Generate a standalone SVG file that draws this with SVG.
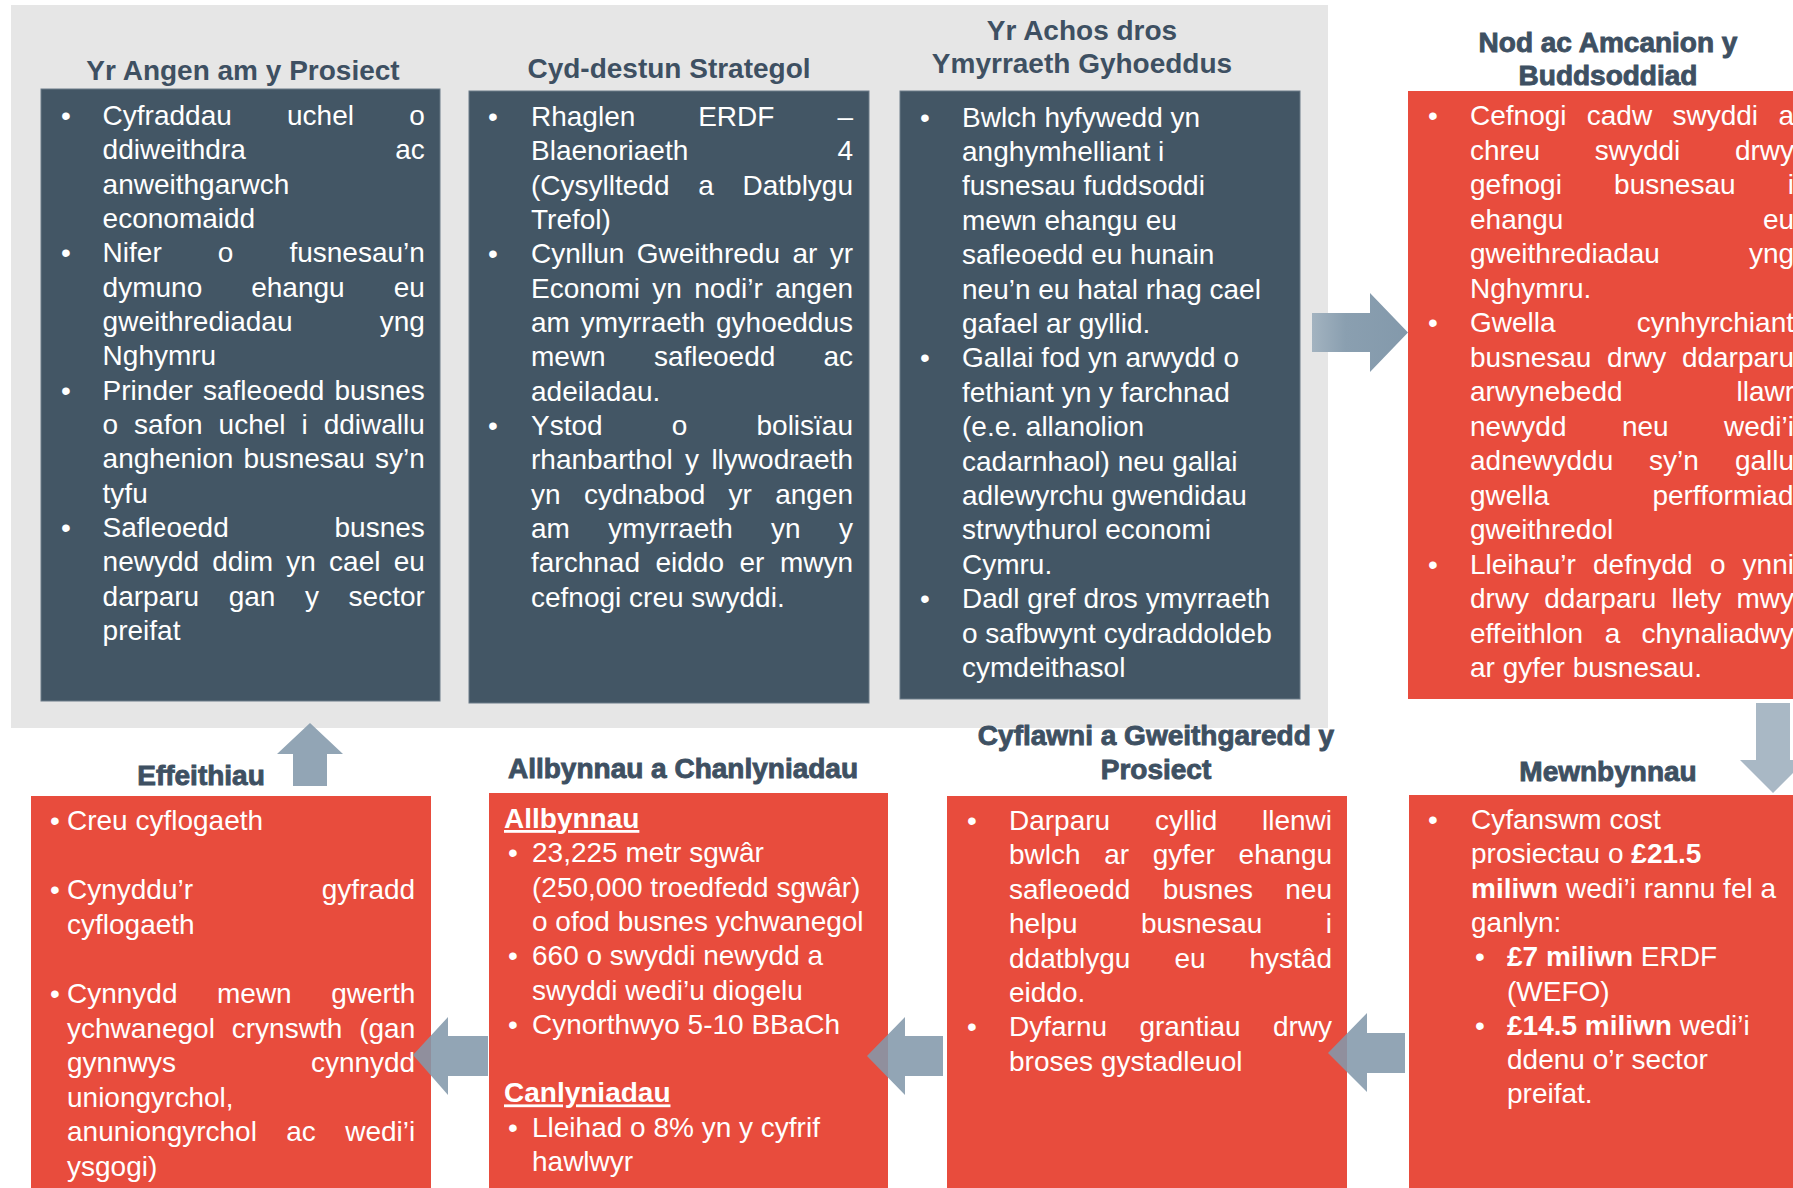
<svg xmlns="http://www.w3.org/2000/svg" width="1793" height="1188" viewBox="0 0 1793 1188">
<defs>
<style>
text{font-family:"Liberation Sans",Arial,sans-serif;}
.b{font-size:28px;fill:#ffffff;}
.h{font-size:28px;font-weight:bold;fill:#3e5062;text-anchor:middle;}
.hh{font-size:28px;font-weight:bold;fill:#3e5062;text-anchor:middle;stroke:#3e5062;stroke-width:0.9px;}
.dk{fill:#435665;stroke:#6b7b88;stroke-width:1;}
.rd{fill:#e84c3d;}
.ar{fill:#8399ab;opacity:0.88;}
.bo{font-weight:bold;}
.u{font-weight:bold;text-decoration:underline;}
</style>
<linearGradient id="gr" x1="1312" y1="0" x2="1408" y2="0" gradientUnits="userSpaceOnUse">
<stop offset="0" stop-color="#a3b3c0"/>
<stop offset="0.35" stop-color="#8a9fb0"/>
<stop offset="1" stop-color="#8399ab"/>
</linearGradient>
</defs>
<rect width="1793" height="1188" fill="#ffffff"/>
<rect x="11" y="5" width="1317" height="723" fill="#e6e6e6"/>

<g id="node-angen">
<rect class="dk" x="41" y="89" width="399" height="612"/>
<text class="h" x="243" y="80">Yr Angen am y Prosiect</text>
<g class="b">
<text x="61" y="125">•</text><text x="61" y="262.3">•</text><text x="61" y="399.6">•</text><text x="61" y="537">•</text>
<text y="125"><tspan x="102.6">Cyfraddau</tspan><tspan x="287">uchel</tspan><tspan x="409.2">o</tspan></text>
<text y="159.3"><tspan x="102.6">ddiweithdra</tspan><tspan x="395.2">ac</tspan></text>
<text x="102.6" y="193.7">anweithgarwch</text>
<text x="102.6" y="228">economaidd</text>
<text y="262.3"><tspan x="102.6">Nifer</tspan><tspan x="217.8">o</tspan><tspan x="289.4">fusnesau’n</tspan></text>
<text y="296.7"><tspan x="102.6">dymuno</tspan><tspan x="251.2">ehangu</tspan><tspan x="393.7">eu</tspan></text>
<text y="331"><tspan x="102.6">gweithrediadau</tspan><tspan x="379.7">yng</tspan></text>
<text x="102.6" y="365.3">Nghymru</text>
<text y="399.6"><tspan x="102.6">Prinder</tspan><tspan x="203">safleoedd</tspan><tspan x="334.5">busnes</tspan></text>
<text y="434"><tspan x="102.6">o</tspan><tspan x="134.1">safon</tspan><tspan x="218.6">uchel</tspan><tspan x="301.5">i</tspan><tspan x="323.7">ddiwallu</tspan></text>
<text y="468.3"><tspan x="102.6">anghenion</tspan><tspan x="243.5">busnesau</tspan><tspan x="375">sy’n</tspan></text>
<text x="102.6" y="502.6">tyfu</text>
<text y="537"><tspan x="102.6">Safleoedd</tspan><tspan x="334.5">busnes</tspan></text>
<text y="571.3"><tspan x="102.6">newydd</tspan><tspan x="212.3">ddim</tspan><tspan x="286.3">yn</tspan><tspan x="329.1">cael</tspan><tspan x="393.7">eu</tspan></text>
<text y="605.6"><tspan x="102.6">darparu</tspan><tspan x="228.7">gan</tspan><tspan x="305">y</tspan><tspan x="348.6">sector</tspan></text>
<text x="102.6" y="640">preifat</text>
</g>
</g>

<g id="node-cyd-destun">
<rect class="dk" x="469" y="91" width="400" height="612"/>
<text class="h" x="669" y="78">Cyd-destun Strategol</text>
<g class="b">
<text x="488" y="126">•</text><text x="488" y="263.3">•</text><text x="488" y="435">•</text>
<text y="126"><tspan x="531">Rhaglen</tspan><tspan x="698.2">ERDF</tspan><tspan x="837.4">–</tspan></text>
<text y="160.3"><tspan x="531">Blaenoriaeth</tspan><tspan x="837.4">4</tspan></text>
<text y="194.7"><tspan x="531">(Cysylltedd</tspan><tspan x="698.2">a</tspan><tspan x="742.5">Datblygu</tspan></text>
<text x="531" y="229">Trefol)</text>
<text y="263.3"><tspan x="531">Cynllun</tspan><tspan x="636.8">Gweithredu</tspan><tspan x="792.4">ar</tspan><tspan x="829.7">yr</tspan></text>
<text y="297.7"><tspan x="531">Economi</tspan><tspan x="652.3">yn</tspan><tspan x="694.3">nodi’r</tspan><tspan x="775.2">angen</tspan></text>
<text y="332"><tspan x="531">am</tspan><tspan x="580.7">ymyrraeth</tspan><tspan x="716">gyhoeddus</tspan></text>
<text y="366.3"><tspan x="531">mewn</tspan><tspan x="653.9">safleoedd</tspan><tspan x="823.4">ac</tspan></text>
<text x="531" y="400.6">adeiladau.</text>
<text y="435"><tspan x="531">Ystod</tspan><tspan x="671.8">o</tspan><tspan x="756.5">bolisïau</tspan></text>
<text y="469.3"><tspan x="531">rhanbarthol</tspan><tspan x="685">y</tspan><tspan x="711.4">llywodraeth</tspan></text>
<text y="503.6"><tspan x="531">yn</tspan><tspan x="583.9">cydnabod</tspan><tspan x="728.6">yr</tspan><tspan x="775.2">angen</tspan></text>
<text y="538"><tspan x="531">am</tspan><tspan x="608.3">ymyrraeth</tspan><tspan x="771.1">yn</tspan><tspan x="839">y</tspan></text>
<text y="572.3"><tspan x="531">farchnad</tspan><tspan x="655.5">eiddo</tspan><tspan x="739.5">er</tspan><tspan x="779.9">mwyn</tspan></text>
<text x="531" y="606.6">cefnogi creu swyddi.</text>
</g>
</g>

<g id="node-achos">
<rect class="dk" x="900" y="91" width="400" height="608"/>
<text class="h" x="1082" y="40">Yr Achos dros</text>
<text class="h" x="1082" y="73">Ymyrraeth Gyhoeddus</text>
<g class="b">
<text x="920" y="126.5">•</text><text x="920" y="367.3">•</text><text x="920" y="608.1">•</text>
<text x="962" y="126.5">Bwlch hyfywedd  yn</text>
<text x="962" y="160.9">anghymhelliant i</text>
<text x="962" y="195.3">fusnesau fuddsoddi</text>
<text x="962" y="229.7">mewn ehangu eu</text>
<text x="962" y="264.1">safleoedd eu hunain</text>
<text x="962" y="298.5">neu’n eu hatal rhag cael</text>
<text x="962" y="332.9">gafael ar gyllid.</text>
<text x="962" y="367.3">Gallai fod yn arwydd o</text>
<text x="962" y="401.7">fethiant yn y farchnad</text>
<text x="962" y="436.1">(e.e. allanolion</text>
<text x="962" y="470.5">cadarnhaol) neu gallai</text>
<text x="962" y="504.9">adlewyrchu gwendidau</text>
<text x="962" y="539.3">strwythurol economi</text>
<text x="962" y="573.7">Cymru.</text>
<text x="962" y="608.1">Dadl gref dros ymyrraeth</text>
<text x="962" y="642.5">o safbwynt cydraddoldeb</text>
<text x="962" y="676.9">cymdeithasol</text>
</g>
</g>

<g id="node-nod">
<rect class="rd" x="1408" y="91" width="400" height="608"/>
<text class="hh" x="1608" y="52">Nod ac Amcanion y</text>
<text class="hh" x="1608" y="85">Buddsoddiad</text>
<g class="b">
<text x="1428" y="125">•</text><text x="1428" y="332">•</text><text x="1428" y="573.5">•</text>
<text y="125"><tspan x="1470">Cefnogi</tspan><tspan x="1586.8">cadw</tspan><tspan x="1672.5">swyddi</tspan><tspan x="1778.4">a</tspan></text>
<text y="159.5"><tspan x="1470">chreu</tspan><tspan x="1594.7">swyddi</tspan><tspan x="1734.9">drwy</tspan></text>
<text y="194"><tspan x="1470">gefnogi</tspan><tspan x="1614.1">busnesau</tspan><tspan x="1787.8">i</tspan></text>
<text y="228.5"><tspan x="1470">ehangu</tspan><tspan x="1762.9">eu</tspan></text>
<text y="263"><tspan x="1470">gweithrediadau</tspan><tspan x="1748.9">yng</tspan></text>
<text x="1470" y="297.5">Nghymru.</text>
<text y="332"><tspan x="1470">Gwella</tspan><tspan x="1636.8">cynhyrchiant</tspan></text>
<text y="366.5"><tspan x="1470">busnesau</tspan><tspan x="1607.1">drwy</tspan><tspan x="1681.9">ddarparu</tspan></text>
<text y="401"><tspan x="1470">arwynebedd</tspan><tspan x="1736.5">llawr</tspan></text>
<text y="435.5"><tspan x="1470">newydd</tspan><tspan x="1621.9">neu</tspan><tspan x="1724">wedi’i</tspan></text>
<text y="470"><tspan x="1470">adnewyddu</tspan><tspan x="1649.1">sy’n</tspan><tspan x="1734.9">gallu</tspan></text>
<text y="504.5"><tspan x="1470">gwella</tspan><tspan x="1652.4">perfformiad</tspan></text>
<text x="1470" y="539">gweithredol</text>
<text y="573.5"><tspan x="1470">Lleihau’r</tspan><tspan x="1593">defnydd</tspan><tspan x="1709.9">o</tspan><tspan x="1742.6">ynni</tspan></text>
<text y="608"><tspan x="1470">drwy</tspan><tspan x="1544.3">ddarparu</tspan><tspan x="1671.5">llety</tspan><tspan x="1736.5">mwy</tspan></text>
<text y="642.5"><tspan x="1470">effeithlon</tspan><tspan x="1604.8">a</tspan><tspan x="1641.5">chynaliadwy</tspan></text>
<text x="1470" y="677">ar gyfer busnesau.</text>
</g>
</g>

<g id="node-mewnbynnau">
<rect class="rd" x="1409" y="795" width="400" height="400"/>
<text class="hh" x="1608" y="781">Mewnbynnau</text>
<g class="b">
<text x="1428" y="829">•</text>
<text x="1471" y="829">Cyfanswm cost</text>
<text x="1471" y="863.3">prosiectau o <tspan class="bo">£21.5</tspan></text>
<text x="1471" y="897.6"><tspan class="bo">miliwn</tspan> wedi’i rannu fel a</text>
<text x="1471" y="931.9">ganlyn:</text>
<text x="1475" y="966.2">•</text>
<text x="1507" y="966.2"><tspan class="bo">£7 miliwn</tspan> ERDF</text>
<text x="1507" y="1000.5">(WEFO)</text>
<text x="1475" y="1034.8">•</text>
<text x="1507" y="1034.8"><tspan class="bo">£14.5 miliwn</tspan> wedi’i</text>
<text x="1507" y="1069.1">ddenu o’r sector</text>
<text x="1507" y="1103.4">preifat.</text>
</g>
</g>

<g id="node-cyflawni">
<rect class="rd" x="947" y="796" width="400" height="400"/>
<text class="hh" x="1156" y="745">Cyflawni a Gweithgaredd y</text>
<text class="hh" x="1156" y="779">Prosiect</text>
<g class="b">
<text x="967" y="830">•</text><text x="967" y="1036.4">•</text>
<text y="830"><tspan x="1009">Darparu</tspan><tspan x="1155">cyllid</tspan><tspan x="1262">llenwi</tspan></text>
<text y="864.4"><tspan x="1009">bwlch</tspan><tspan x="1104.2">ar</tspan><tspan x="1152.7">gyfer</tspan><tspan x="1238.6">ehangu</tspan></text>
<text y="898.8"><tspan x="1009">safleoedd</tspan><tspan x="1162.7">busnes</tspan><tspan x="1285.3">neu</tspan></text>
<text y="933.2"><tspan x="1009">helpu</tspan><tspan x="1140.9">busnesau</tspan><tspan x="1325.8">i</tspan></text>
<text y="967.6"><tspan x="1009">ddatblygu</tspan><tspan x="1174.4">eu</tspan><tspan x="1249.5">hystâd</tspan></text>
<text x="1009" y="1002">eiddo.</text>
<text y="1036.4"><tspan x="1009">Dyfarnu</tspan><tspan x="1139.4">grantiau</tspan><tspan x="1272.9">drwy</tspan></text>
<text x="1009" y="1070.8">broses gystadleuol</text>
</g>
</g>

<g id="node-allbynnau">
<rect class="rd" x="489" y="793" width="399" height="400"/>
<text class="hh" x="683" y="778">Allbynnau a Chanlyniadau</text>
<g class="b">
<text class="u" x="504" y="828">Allbynnau</text>
<text x="508" y="862.3">•</text>
<text x="532" y="862.3">23,225 metr sgwâr</text>
<text x="532" y="896.6">(250,000 troedfedd sgwâr)</text>
<text x="532" y="930.9">o ofod busnes ychwanegol</text>
<text x="508" y="965.2">•</text>
<text x="532" y="965.2">660 o swyddi newydd a</text>
<text x="532" y="999.5">swyddi wedi’u diogelu</text>
<text x="508" y="1033.8">•</text>
<text x="532" y="1033.8">Cynorthwyo 5-10 BBaCh</text>
<text class="u" x="504" y="1102.4">Canlyniadau</text>
<text x="508" y="1136.7">•</text>
<text x="532" y="1136.7">Lleihad o 8% yn y cyfrif</text>
<text x="532" y="1171">hawlwyr</text>
</g>
</g>

<g id="node-effeithiau">
<rect class="rd" x="31" y="796" width="400" height="400"/>
<text class="hh" x="201" y="785">Effeithiau</text>
<g class="b">
<text x="50" y="830">•</text><text x="50" y="899">•</text><text x="50" y="1003">•</text>
<text x="67" y="830">Creu cyflogaeth</text>
<text y="899"><tspan x="67">Cynyddu’r</tspan><tspan x="321.8">gyfradd</tspan></text>
<text x="67" y="933.5">cyflogaeth</text>
<text y="1003"><tspan x="67">Cynnydd</tspan><tspan x="217">mewn</tspan><tspan x="331.2">gwerth</tspan></text>
<text y="1037.5"><tspan x="67">ychwanegol</tspan><tspan x="231.8">crynswth</tspan><tspan x="359.2">(gan</tspan></text>
<text y="1072"><tspan x="67">gynnwys</tspan><tspan x="310.9">cynnydd</tspan></text>
<text x="67" y="1106.5">uniongyrchol,</text>
<text y="1141"><tspan x="67">anuniongyrchol</tspan><tspan x="286.3">ac</tspan><tspan x="345.2">wedi’i</tspan></text>
<text x="67" y="1175.5">ysgogi)</text>
</g>
</g>

<g id="connectors">
<polygon fill="url(#gr)" points="1312,313 1370,313 1370,293 1408,332.5 1370,372 1370,352 1312,352"/>
<polygon fill="#a9b8c5" points="1756,703 1790,703 1790,760 1806,760 1773,793 1740,760 1756,760"/>
<polygon class="ar" points="1405,1033 1367,1033 1367,1013 1328,1053 1367,1092 1367,1073 1405,1073"/>
<polygon class="ar" points="943,1036 905,1036 905,1017 867,1056 905,1095 905,1076 943,1076"/>
<polygon class="ar" points="488,1036 448,1036 448,1017 413,1055 448,1095 448,1076 488,1076"/>
<polygon class="ar" points="293,786 293,754 277,754 310,723 343,754 327,754 327,786"/>
</g>
</svg>
